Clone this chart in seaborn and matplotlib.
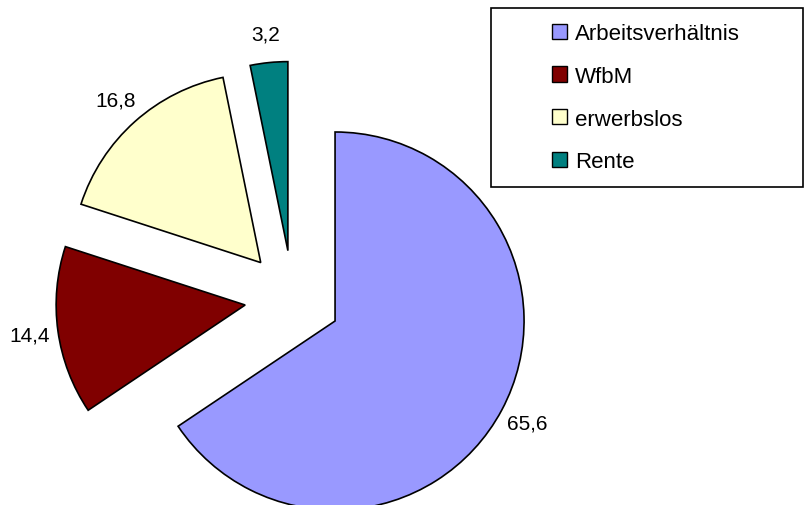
import numpy as np
import matplotlib.pyplot as plt
import matplotlib.patches as mpatches
import seaborn as sns

labels = ["Arbeitsverhältnis", "WfbM", "erwerbslos", "Rente"]
values = [65.6, 14.4, 16.8, 3.2]
colors = ["#9999FF", "#800000", "#FFFFCC", "#008080"]

sns.set_theme(style="white")
plt.rcParams["font.family"] = ["Liberation Sans", "DejaVu Sans"]
plt.rcParams["text.color"] = "black"

fig = plt.figure(figsize=(8.05, 5.06), dpi=100)
ax = fig.add_axes([0, 0, 1, 1])

# pie centre and radius in pixels
r_px = 189.0
cx, cy = 292.7, 299.4

wedges, texts, autotexts = ax.pie(
    values,
    colors=sns.color_palette(colors),
    explode=[0.254] * len(values),
    startangle=90,
    counterclock=False,
    autopct=lambda p: f"{p:.1f}".replace(".", ","),
    pctdistance=1.15,
    wedgeprops=dict(edgecolor="black", linewidth=1.2),
    textprops=dict(fontsize=15, color="black"),
)

ax.set_xlim(-cx / r_px, (805 - cx) / r_px)
ax.set_ylim(-(506 - cy) / r_px, cy / r_px)
ax.set_aspect("auto")
ax.axis("off")

# legend box
frame = mpatches.Rectangle((491 / 805, 1 - 188 / 506), 312 / 805, 179 / 506,
                           transform=fig.transFigure, fill=False,
                           edgecolor="black", linewidth=1.2)
fig.patches.append(frame)

handles = [mpatches.Rectangle((0, 0), 1, 1, facecolor=c, edgecolor="black", linewidth=1.0)
           for c in colors]
fig.legend(handles, labels, loc="upper left",
           bbox_to_anchor=(552 / 805, 1 - 24 / 506),
           frameon=False, prop=dict(size=16), labelcolor="black",
           handlelength=0.68, handleheight=0.68, handletextpad=0.36,
           labelspacing=0.98, borderpad=0, borderaxespad=0)

fig.savefig("out.png", dpi=100)
